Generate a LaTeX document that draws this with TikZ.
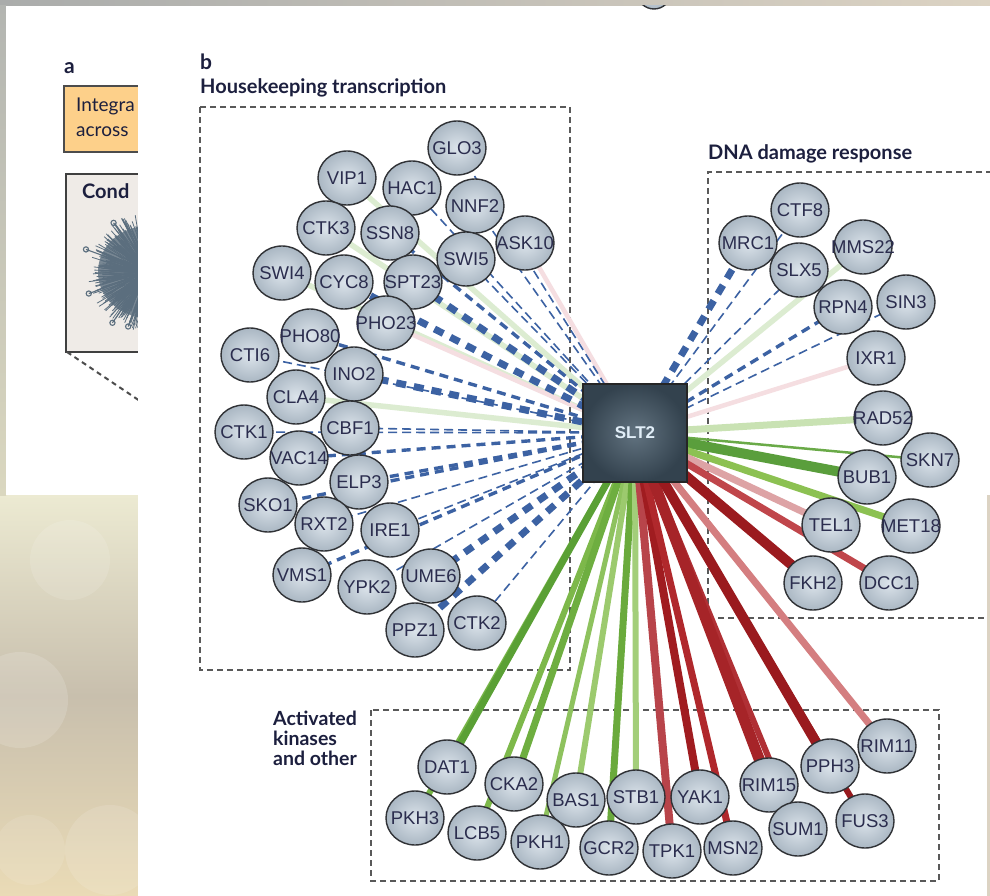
\documentclass[tikz,border=0pt]{standalone}
\usepackage{fontspec}
\setmainfont{Liberation Sans}
\newfontfamily\ttl{Lato}
\usetikzlibrary{shapes.geometric}
\pgfdeclarelayer{back}
\pgfdeclarelayer{bg}
\pgfsetlayers{back,bg,main}
\definecolor{eblue}{HTML}{3C62A3}
\definecolor{lgr}{HTML}{DCECD1}
\definecolor{lpk}{HTML}{F5DEE1}
\definecolor{ink}{HTML}{2B2D4E}
\definecolor{ttlc}{HTML}{1C1F3E}
\definecolor{ballin}{HTML}{DCE4EB}
\definecolor{ballout}{HTML}{AAB7C3}
\definecolor{ballln}{HTML}{303236}
\definecolor{sltin}{HTML}{627380}
\definecolor{sltout}{HTML}{33424E}
\definecolor{bgL}{HTML}{AAACAB}
\definecolor{bgR}{HTML}{DCD3C3}
\definecolor{bkA}{HTML}{ECEAD2}
\definecolor{bkB}{HTML}{C8BFAD}
\definecolor{bkC}{HTML}{EADBB6}
\definecolor{lsA}{HTML}{B3B5B1}
\definecolor{lsB}{HTML}{DAD7BF}
\definecolor{orng}{HTML}{FDD08A}
\definecolor{condbg}{HTML}{EFEBE7}
\definecolor{blobc}{HTML}{5B6E7E}
\definecolor{cRAD52}{HTML}{C9E2B3}
\definecolor{cSKN7}{HTML}{6AAA48}
\definecolor{cBUB1}{HTML}{5A9E3C}
\definecolor{cMET18}{HTML}{8CC152}
\definecolor{cTEL1}{HTML}{DDA3A5}
\definecolor{cDCC1}{HTML}{C0464B}
\definecolor{cFKH2}{HTML}{9B1B1F}
\definecolor{cDAT1}{HTML}{5AA035}
\definecolor{cPKH3}{HTML}{76B446}
\definecolor{cCKA2}{HTML}{6EAE40}
\definecolor{cLCB5}{HTML}{7DB84A}
\definecolor{cBAS1}{HTML}{9CCA6E}
\definecolor{cPKH1}{HTML}{8EC25E}
\definecolor{cSTB1}{HTML}{A3CE7A}
\definecolor{cGCR2}{HTML}{6AAA3C}
\definecolor{cTPK1}{HTML}{B8444A}
\definecolor{cYAK1}{HTML}{A01C20}
\definecolor{cMSN2}{HTML}{B0282C}
\definecolor{cRIM15}{HTML}{A62428}
\definecolor{cSUM1}{HTML}{B03035}
\definecolor{cPPH3}{HTML}{9A1A1E}
\definecolor{cFUS3}{HTML}{971A1E}
\definecolor{cRIM11}{HTML}{D47E80}
\tikzset{
  ball/.style={ellipse, draw=ballln, line width=1.4pt, minimum width=58pt,
    minimum height=54pt, inner sep=0pt, shading=radial, inner color=ballin, outer color=ballout},
  lbl/.style={inner sep=0pt, text=ink, font=\fontsize{18.5}{18.5}\selectfont},
  slt/.style={rectangle, draw=black!85, line width=1.2pt, minimum width=104pt, minimum height=98pt,
    shading=radial, inner color=sltin, outer color=sltout, text={rgb,255:red,225;green,238;blue,248},
    font=\fontsize{17}{17}\selectfont\bfseries},
  ethin/.style={draw=eblue, line width=1.6pt, dash pattern=on 9pt off 5pt},
  emed/.style={draw=eblue, line width=3.4pt, dash pattern=on 9pt off 6pt},
  ethick/.style={draw=eblue, line width=7pt, dash pattern=on 10pt off 8pt},
  elg/.style={draw=lgr, line width=5.5pt},
  elp/.style={draw=lpk, line width=4.5pt},
  dbox/.style={draw=black!65, line width=1.4pt, dash pattern=on 6pt off 4pt},
  ttlf/.style={inner sep=0pt, anchor=base west, text=ttlc, font=\ttl\bfseries\fontsize{20}{20}\selectfont},
}
\newcommand\gene[3]{\node[ball] (#1) at (#2,#3) {}; \node[lbl] (#1-l) at (#1.center) {#1};}
\begin{document}
\begin{tikzpicture}[x=1pt,y=-1pt]
\useasboundingbox (0,0) rectangle (990,896);
\begin{pgfonlayer}{back}
\fill[left color=bgL, right color=bgR] (0,0) rectangle (990,896);
\fill[top color=bkA, bottom color=bkC, middle color=bkB] (0,495) rectangle (138,896);
\fill[top color=lsA, bottom color=lsB] (0,6) rectangle (6,495);
\fill[white, opacity=.15] (20,700) circle (48);
\fill[white, opacity=.12] (110,850) circle (45);
\fill[white, opacity=.12] (70,560) circle (40);
\fill[white, opacity=.10] (30,850) circle (35);
\fill[white] (6,6) rectangle (990,495);
% panel a
\node[inner sep=0pt, anchor=base west, text=ttlc, font=\ttl\bfseries\fontsize{21}{21}\selectfont] (la) at (64,74) {a};
\draw[draw=black!70, line width=1.5pt, fill=orng] (64,86) rectangle (160,152);
\node[inner sep=0pt, anchor=base west, text=ttlc, font=\ttl\fontsize{19}{19}\selectfont] (ta1) at (76,112) {Integra};
\node[inner sep=0pt, anchor=base west, text=ttlc, font=\ttl\fontsize{19}{19}\selectfont] (ta2) at (76,137) {across};
\draw[draw=black!75, line width=1.5pt, fill=condbg] (66,174) rectangle (160,352);
\node[inner sep=0pt, anchor=base west, text=ttlc, font=\ttl\bfseries\fontsize{20}{20}\selectfont] (ta3) at (82,199) {Cond};
\begin{scope}
\clip (67,205) rectangle (138,351);
\fill[blobc, opacity=.8] (148,272) ellipse (50 and 46);
\pgfmathsetseed{11}
\foreach \i in {1,...,500}{
  \pgfmathsetmacro\ang{rnd*360}
  \pgfmathsetmacro\rad{38+rnd*22}
  \pgfmathsetmacro\off{rnd*8-4}
  \draw[blobc, line width=0.8pt] (148,272) ++(\ang+90:\off) -- ++(\ang:\rad);
}
\foreach \ang/\rad in {200/66, 125/62, 235/60, 160/63, 110/58}{
  \draw[blobc, line width=1.1pt] (148,272) -- ++(\ang:\rad) circle (2.6);
}
\end{scope}
\coordinate (da) at (67,352);
\coordinate (db) at (140,401);
\draw[draw=black!70, line width=2pt, dash pattern=on 5pt off 4pt] (da) -- (db);
\fill[white] (138,6) rectangle (987,896);
\end{pgfonlayer}

% titles
\node[inner sep=0pt, anchor=base west, text=ttlc, font=\ttl\bfseries\fontsize{21}{21}\selectfont] (lb) at (200,70) {b};
\node[ttlf] (t1) at (200,94) {Housekeeping transcription};
\node[ttlf] (t2) at (708,160) {DNA damage response};
\node[ttlf, align=left, font=\ttl\bfseries\fontsize{19.5}{20}\selectfont, anchor=north west] (t3) at (273,711) {Activated\\kinases\\and other};

% peeking node at top
\begin{scope}
\clip (600,6) rectangle (700,40);
\node[ball, minimum width=34pt, minimum height=34pt] (peek) at (654,-8) {};
\end{scope}

% housekeeping
\gene{GLO3}{457}{148}
\gene{VIP1}{347}{178}
\gene{HAC1}{412}{188}
\gene{NNF2}{475}{206}
\gene{CTK3}{326}{228}
\gene{SSN8}{390}{233}
\gene{ASK10}{525}{243}
\gene{SWI5}{466}{259}
\gene{SWI4}{282}{273}
\gene{CYC8}{344}{282}
\gene{SPT23}{413}{282}
\gene{PHO23}{386}{323}
\gene{PHO80}{310}{336}
\gene{CTI6}{250}{355}
\gene{INO2}{354}{374}
\gene{CLA4}{296}{397}
\gene{CTK1}{244}{432}
\gene{CBF1}{350}{428}
\gene{VAC14}{299}{458}
\gene{ELP3}{359}{482}
\gene{SKO1}{268}{505}
\gene{RXT2}{324}{524}
\gene{IRE1}{390}{530}
\gene{VMS1}{302}{575}
\gene{YPK2}{367}{587}
\gene{UME6}{431}{576}
\gene{PPZ1}{415}{630}
\gene{CTK2}{477}{623}
% DNA damage
\gene{CTF8}{800}{210}
\gene{MRC1}{748}{243}
\gene{MMS22}{863}{247}
\gene{SLX5}{799}{270}
\gene{RPN4}{843}{307}
\gene{SIN3}{906}{302}
\gene{IXR1}{876}{358}
\gene{RAD52}{883}{418}
\gene{SKN7}{930}{460}
\gene{BUB1}{867}{477}
\gene{TEL1}{831}{525}
\gene{MET18}{911}{526}
\gene{FKH2}{813}{583}
\gene{DCC1}{889}{583}
% kinases
\gene{DAT1}{447}{767}
\gene{CKA2}{514}{784}
\gene{BAS1}{576}{800}
\gene{STB1}{636}{797}
\gene{YAK1}{700}{797}
\gene{RIM15}{769}{785}
\gene{PPH3}{830}{766}
\gene{RIM11}{887}{746}
\gene{PKH3}{415}{818}
\gene{LCB5}{477}{833}
\gene{PKH1}{540}{842}
\gene{GCR2}{609}{848}
\gene{TPK1}{672}{851}
\gene{MSN2}{733}{848}
\gene{SUM1}{798}{829}
\gene{FUS3}{865}{821}

\node[slt] (SLT2) at (635,433) {SLT2};

\begin{pgfonlayer}{bg}
\draw[dbox] (200,107) rectangle (570,670);
\draw[dbox] (992,172) -- (708,172) -- (708,618) -- (987,618);
\draw[dbox] (371,710) rectangle (939,881);
\foreach \n/\s in {VIP1/elg, CTK3/elg, SWI4/elg, CLA4/elg, MMS22/elg, ASK10/elp, PHO23/elp, IXR1/elp,
  GLO3/ethin, HAC1/ethin, NNF2/ethin, SWI5/ethin, CTI6/ethin, CTK1/ethin, CBF1/ethin, RXT2/ethin,
  IRE1/ethin, YPK2/ethin, CTK2/ethin, CTF8/ethin, SLX5/ethin, SIN3/ethin,
  SSN8/emed, PHO80/emed, VAC14/emed, ELP3/emed, SKO1/emed, VMS1/emed, RPN4/emed,
  CYC8/ethick, SPT23/ethick, INO2/ethick, UME6/ethick, PPZ1/ethick, MRC1/ethick}
  {\draw[\s] (SLT2.center) -- (\n.center);}
\foreach \n/\w in {RAD52/7, SKN7/2.5, BUB1/10, MET18/7, TEL1/7, DCC1/7, FKH2/10,
  PKH3/6, DAT1/7, LCB5/6, CKA2/7, PKH1/5, BAS1/6, GCR2/7, STB1/6, TPK1/8, YAK1/8, MSN2/7,
  SUM1/6, RIM15/11, FUS3/6, PPH3/10, RIM11/7}
  {\draw[draw=c\n, line width=\w pt] (SLT2.center) -- (\n.center);}
\end{pgfonlayer}
\end{tikzpicture}
\end{document}
